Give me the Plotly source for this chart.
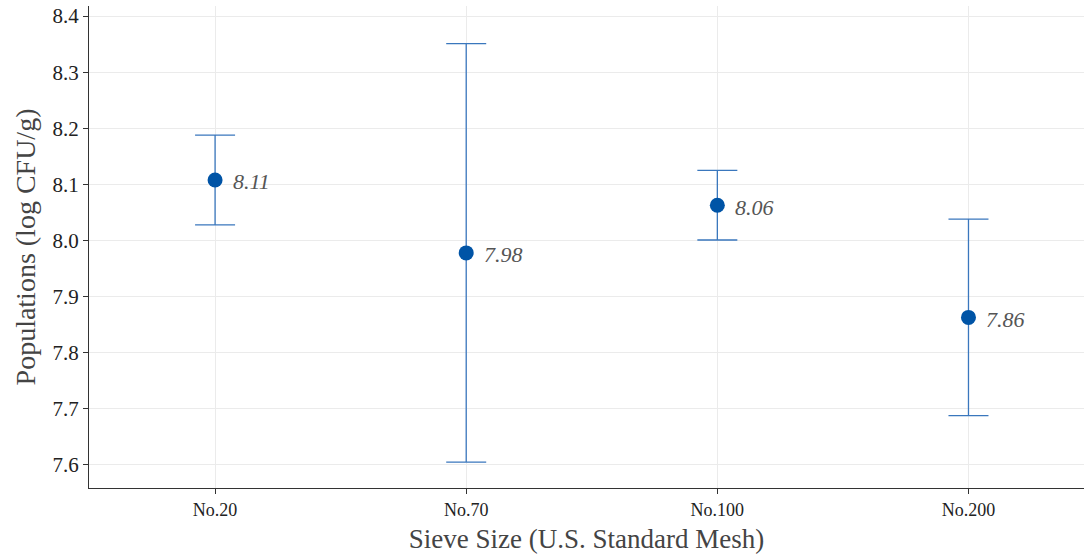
import plotly.graph_objects as go

categories = ["No.20", "No.70", "No.100", "No.200"]
means = [8.108, 7.978, 8.063, 7.863]
errors = [0.080, 0.373, 0.062, 0.175]
labels = ["8.11", "7.98", "8.06", "7.86"]
y_ticks = [7.6, 7.7, 7.8, 7.9, 8.0, 8.1, 8.2, 8.3, 8.4]

fig = go.Figure()
fig.add_trace(go.Scatter(
    x=categories, y=means, mode="markers",
    marker=dict(color="#0054a6", size=15),
    error_y=dict(type="data", array=errors, visible=True, color="#3a77bd", thickness=1.3, width=20),
    showlegend=False,
))
for c, m, t in zip(categories, means, labels):
    fig.add_annotation(x=c, y=m, text="<i>" + t + "</i>", showarrow=False, xanchor="left",
                       xshift=16, yshift=-2,
                       font=dict(family="Liberation Serif", size=22, color="#555555"))

fig.update_layout(
    width=1084, height=558,
    margin=dict(l=89, r=0, t=6, b=70),
    plot_bgcolor="white", paper_bgcolor="white",
    font=dict(family="Liberation Serif", color="#222222"),
    xaxis=dict(
        range=[-0.502, 3.46], showgrid=True, gridcolor="#ebebeb", gridwidth=1,
        showline=True, linecolor="#333333", linewidth=1.2,
        ticks="outside", ticklen=5, tickcolor="#333333",
        tickfont=dict(size=18, color="#222222"),
        title=dict(text="Sieve Size (U.S. Standard Mesh)", font=dict(size=27, color="#444444"), standoff=10),
    ),
    yaxis=dict(
        range=[7.559, 8.418], tickvals=y_ticks, tickformat=".1f",
        showgrid=True, gridcolor="#ebebeb", gridwidth=1,
        showline=True, linecolor="#333333", linewidth=1.2,
        ticks="outside", ticklen=5, tickcolor="#333333",
        tickfont=dict(size=21, color="#222222"),
        title=dict(text="Populations (log CFU/g)", font=dict(size=28, color="#444444"), standoff=8),
        zeroline=False,
    ),
)
fig.write_html("out.html")
